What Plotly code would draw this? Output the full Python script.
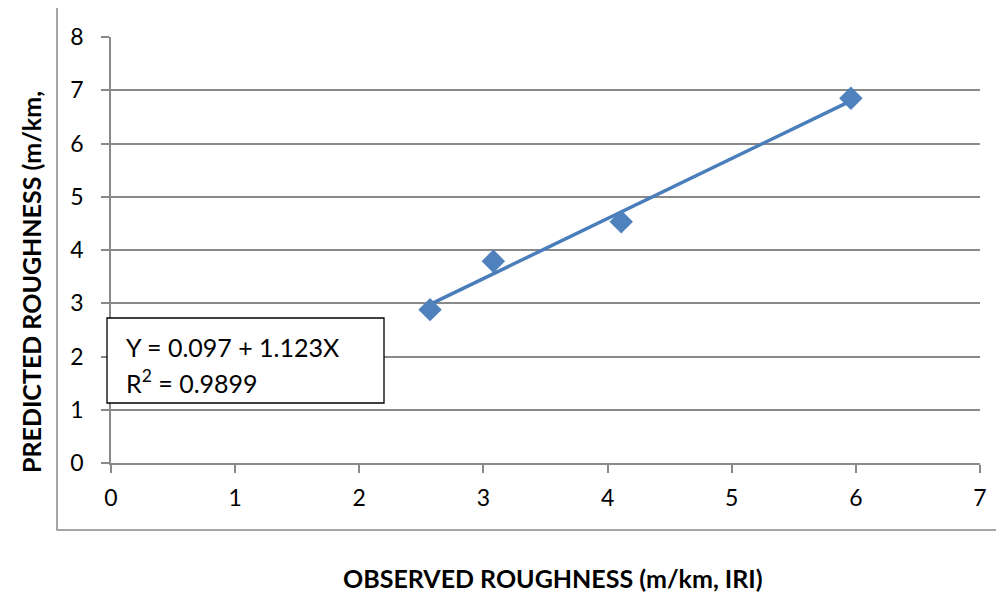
import numpy as np
import plotly.graph_objects as go

observed = [2.57, 3.08, 4.11, 5.96]
predicted = [2.88, 3.79, 4.53, 6.85]
x_ticks = [0, 1, 2, 3, 4, 5, 6, 7]
y_ticks = [0, 1, 2, 3, 4, 5, 6, 7, 8]
eq_text = "Y = 0.097 + 1.123X"
r2_text = "R<sup>2</sup> = 0.9899"

slope, intercept = np.polyfit(observed, predicted, 1)
tx = [min(observed), max(observed)]
ty = [intercept + slope * v for v in tx]

FONT = "Lato"
BLUE = "#4F81BD"
GRID = "#898989"

fig = go.Figure()
fig.add_trace(go.Scatter(x=tx, y=ty, mode="lines",
                         line=dict(color="#4A7EBB", width=3.5), hoverinfo="skip"))
fig.add_trace(go.Scatter(x=observed, y=predicted, mode="markers",
                         marker=dict(symbol="diamond", size=18, color=BLUE,
                                     line=dict(width=0))))

OFF = 8  # page body margin
W, H = 1004 - OFF, 594 - OFF
L, R, T, B = 111 - OFF, 24, 37 - OFF, 131
pw, ph = W - L - R, H - T - B

def px(x):
    return (x - OFF - L) / pw

def py(y):
    return (H - B - (y - OFF)) / ph

fig.update_layout(
    width=W, height=H,
    margin=dict(l=L, r=R, t=T, b=B),
    paper_bgcolor="white", plot_bgcolor="white",
    showlegend=False,
    font=dict(family=FONT, color="black", size=23),
    xaxis=dict(range=[0, 7], tickvals=x_ticks, showgrid=False,
               showline=True, linecolor=GRID, linewidth=1.8,
               ticks="outside", ticklen=8, tickcolor=GRID, tickwidth=1.8,
               ticklabelstandoff=5, zeroline=False,
               tickfont=dict(family=FONT, size=23, color="black")),
    yaxis=dict(range=[0, 8], tickvals=y_ticks, showgrid=True,
               gridcolor=GRID, gridwidth=1.8,
               showline=True, linecolor=GRID, linewidth=1.8,
               ticks="outside", ticklen=8, tickcolor=GRID, tickwidth=1.8,
               ticklabelstandoff=13, zeroline=False,
               tickfont=dict(family=FONT, size=23, color="black")),
)

shapes = [
    dict(type="rect", xref="paper", yref="paper",
         x0=px(57), x1=px(1010), y0=py(530), y1=py(7),
         line=dict(color=GRID, width=1.5), fillcolor="rgba(0,0,0,0)", layer="below"),
    dict(type="rect", xref="paper", yref="paper",
         x0=px(107), x1=px(384), y0=py(403), y1=py(318),
         line=dict(color="black", width=1.3), fillcolor="white", layer="above"),
]
fig.update_layout(shapes=shapes)

fig.add_annotation(xref="paper", yref="paper", x=px(124), y=py(347),
                   xanchor="left", yanchor="middle", showarrow=False,
                   text=eq_text, font=dict(family=FONT, size=25, color="black"))
fig.add_annotation(xref="paper", yref="paper", x=px(124), y=py(381),
                   xanchor="left", yanchor="middle", showarrow=False,
                   text=r2_text, font=dict(family=FONT, size=25, color="black"))
fig.add_annotation(xref="paper", yref="paper", x=px(553), y=py(578),
                   xanchor="center", yanchor="middle", showarrow=False,
                   text="<b>OBSERVED ROUGHNESS (m/km, IRI)</b>",
                   font=dict(family=FONT, size=25, color="black"))
fig.add_annotation(xref="paper", yref="paper", x=px(31), y=py(282),
                   xanchor="center", yanchor="middle", showarrow=False,
                   textangle=-90,
                   text="<b>PREDICTED ROUGHNESS (m/km,</b>",
                   font=dict(family=FONT, size=25, color="black"))

fig.write_html("out.html")
